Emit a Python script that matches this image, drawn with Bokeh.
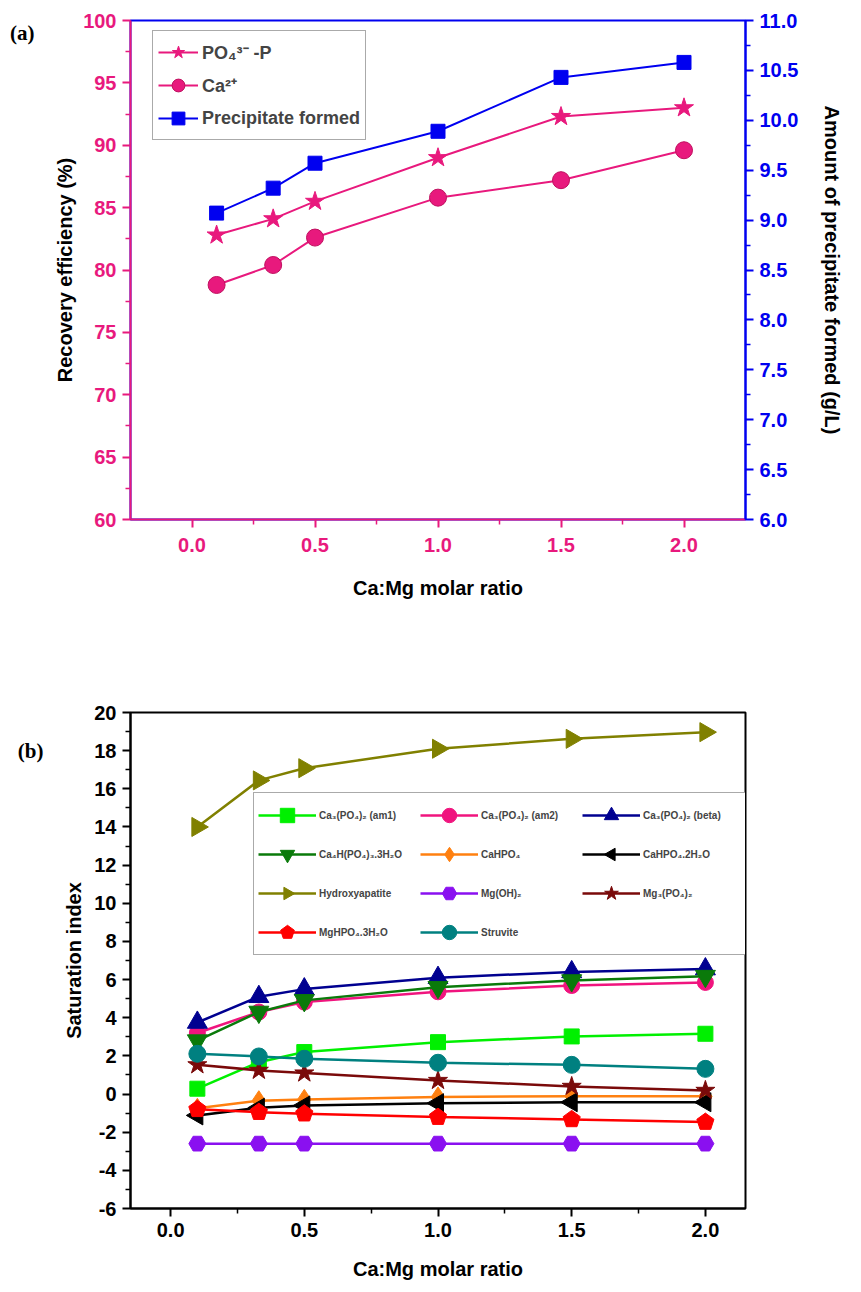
import math
from bokeh.plotting import figure
from bokeh.models import (Range1d, LinearAxis, FixedTicker, Legend, LegendItem,
                          NumeralTickFormatter)
from bokeh.layouts import column
from bokeh.embed import file_html
from bokeh.resources import INLINE

# ---------------- data: panel (a) ----------------
ratio = [0.1, 0.33, 0.5, 1.0, 1.5, 2.0]
po4_recovery = [82.8, 84.1, 85.5, 89.0, 92.3, 93.0]
ca_recovery = [78.8, 80.4, 82.6, 85.8, 87.2, 89.6]
precipitate = [9.07, 9.32, 9.57, 9.89, 10.43, 10.58]

a_x_ticks = [0.0, 0.5, 1.0, 1.5, 2.0]
a_x_minor = [0.25, 0.75, 1.25, 1.75]
a_left_ticks = [60, 65, 70, 75, 80, 85, 90, 95, 100]
a_left_minor = [62.5, 67.5, 72.5, 77.5, 82.5, 87.5, 92.5, 97.5]
a_right_ticks = [6.0, 6.5, 7.0, 7.5, 8.0, 8.5, 9.0, 9.5, 10.0, 10.5, 11.0]
a_right_minor = [6.25, 6.75, 7.25, 7.75, 8.25, 8.75, 9.25, 9.75, 10.25, 10.75]

# ---------------- data: panel (b) ----------------
si_am1 = [0.28, 1.67, 2.2, 2.72, 3.02, 3.16]
si_am2 = [3.2, 4.3, 4.82, 5.36, 5.69, 5.85]
si_beta = [3.75, 5.1, 5.5, 6.1, 6.4, 6.55]
si_ca4h = [2.8, 4.3, 4.91, 5.6, 5.95, 6.18]
si_cahpo4 = [-0.75, -0.35, -0.28, -0.15, -0.12, -0.12]
si_cahpo4_2h2o = [-1.12, -0.72, -0.6, -0.48, -0.43, -0.43]
si_hap = [14.0, 16.44, 17.08, 18.1, 18.62, 18.97]
si_mgoh2 = [-2.6, -2.6, -2.6, -2.6, -2.6, -2.6]
si_mg3po42 = [1.53, 1.24, 1.1, 0.71, 0.4, 0.19]
si_mghpo4 = [-0.8, -0.95, -1.03, -1.21, -1.33, -1.47]
si_struvite = [2.11, 1.97, 1.85, 1.64, 1.53, 1.32]

b_x_ticks = [0.0, 0.5, 1.0, 1.5, 2.0]
b_x_minor = [0.25, 0.75, 1.25, 1.75]
b_y_ticks = [-6, -4, -2, 0, 2, 4, 6, 8, 10, 12, 14, 16, 18, 20]
b_y_minor = [-5, -3, -1, 1, 3, 5, 7, 9, 11, 13, 15, 17, 19]

PINK = "#E8197D"
BLUE = "#0000F0"
FONT = "Liberation Sans"


def style_axis(ax, color, ticks, minor, fmt, label_color=None, title_standoff=6):
    ax.ticker = FixedTicker(ticks=ticks, minor_ticks=minor)
    ax.formatter = NumeralTickFormatter(format=fmt)
    ax.axis_line_color = color
    ax.axis_line_width = 2
    ax.major_tick_line_color = color
    ax.minor_tick_line_color = color
    ax.major_tick_line_width = 2
    ax.minor_tick_line_width = 1.5
    ax.major_tick_out = 8
    ax.major_tick_in = 0
    ax.minor_tick_out = 5
    ax.minor_tick_in = 0
    ax.major_label_text_color = color
    ax.major_label_text_font = FONT
    ax.major_label_text_font_style = "bold"
    ax.major_label_text_font_size = "20px"
    ax.major_label_standoff = 6
    ax.axis_label_text_font = FONT
    ax.axis_label_text_font_style = "bold"
    ax.axis_label_text_font_size = "20px"
    ax.axis_label_text_color = label_color or "black"
    ax.axis_label_standoff = title_standoff


def add_panel_tag(p, text, at):
    # a tick-less outer left axis whose single tick label is the panel tag
    tag = LinearAxis(ticker=FixedTicker(ticks=[at], minor_ticks=[]),
                     major_label_overrides={at: text},
                     axis_line_color=None, major_tick_line_color=None,
                     minor_tick_line_color=None, major_tick_out=0, major_tick_in=0,
                     minor_tick_out=0, minor_tick_in=0, major_label_standoff=17,
                     major_label_text_font="Liberation Serif",
                     major_label_text_font_style="bold",
                     major_label_text_font_size="21px", major_label_text_color="black")
    p.add_layout(tag, "left")


# ================= panel (a) =================
pa = figure(width=861, height=640, x_range=Range1d(-0.25, 2.25), y_range=Range1d(60, 100),
            output_backend="svg", toolbar_location=None,
            min_border_left=130, min_border_right=115, min_border_top=20, min_border_bottom=121)
pa.extra_y_ranges = {"right": Range1d(6, 11)}
pa.grid.visible = False
pa.outline_line_color = BLUE
pa.outline_line_width = 2
pa.background_fill_color = "white"

style_axis(pa.xaxis[0], PINK, a_x_ticks, a_x_minor, "0.0", title_standoff=22)
pa.xaxis[0].major_label_standoff = 10
pa.xaxis[0].axis_label = "Ca:Mg molar ratio"
style_axis(pa.yaxis[0], PINK, a_left_ticks, a_left_minor, "0", title_standoff=4)
pa.yaxis[0].axis_label = "Recovery efficiency (%)"
ra = LinearAxis(y_range_name="right", axis_label="Amount of precipitate formed (g/L)")
style_axis(ra, BLUE, a_right_ticks, a_right_minor, "0.0", title_standoff=20)
pa.add_layout(ra, "right")
add_panel_tag(pa, "(a)", 99)

l1 = pa.line(ratio, po4_recovery, line_color=PINK, line_width=2)
m1 = pa.scatter(ratio, po4_recovery, marker="star", size=20, fill_color=PINK, line_color=PINK)
l2 = pa.line(ratio, ca_recovery, line_color=PINK, line_width=2)
m2 = pa.scatter(ratio, ca_recovery, marker="circle", size=17, fill_color=PINK, line_color="#C0105F")
l3 = pa.line(ratio, precipitate, line_color=BLUE, line_width=2, y_range_name="right")
m3 = pa.scatter(ratio, precipitate, marker="square", size=14, fill_color=BLUE, line_color=BLUE,
                y_range_name="right")

leg_a = Legend(items=[LegendItem(label="PO₄³⁻ -P", renderers=[l1, m1]),
                      LegendItem(label="Ca²⁺", renderers=[l2, m2]),
                      LegendItem(label="Precipitate formed", renderers=[l3, m3])],
               location=(22, 379), glyph_width=40, glyph_height=32, label_height=32,
               spacing=1, padding=5, margin=0, label_standoff=4,
               label_text_font=FONT, label_text_font_style="bold", label_text_font_size="18px",
               border_line_color="#555555", border_line_width=1.2, background_fill_alpha=1)
pa.add_layout(leg_a)

# ================= panel (b) =================
pb = figure(width=861, height=652, x_range=Range1d(-0.15, 2.15), y_range=Range1d(-6, 20),
            output_backend="svg", toolbar_location=None,
            min_border_left=130, min_border_right=116, min_border_top=72, min_border_bottom=84)
pb.grid.visible = False
pb.outline_line_color = "black"
pb.outline_line_width = 2
style_axis(pb.xaxis[0], "black", b_x_ticks, b_x_minor, "0.0", title_standoff=18)
pb.xaxis[0].axis_label = "Ca:Mg molar ratio"
style_axis(pb.yaxis[0], "black", b_y_ticks, b_y_minor, "0", title_standoff=6)
pb.yaxis[0].axis_label = "Saturation index"
add_panel_tag(pb, "(b)", 18)

# name, values, colour, marker, n-gon sides (for rotated shapes), angle, size
series = [
    ("Ca₃(PO₄)₂ (am1)", si_am1, "#00F000", "square", 0, 0, 15),
    ("Ca₃(PO₄)₂ (am2)", si_am2, "#F0147E", "circle", 0, 0, 16),
    ("Ca₃(PO₄)₂ (beta)", si_beta, "#000090", "triangle", 0, 0, 20),
    ("Ca₄H(PO₄)₃.3H₂O", si_ca4h, "#0A7A0A", "inverted_triangle", 0, 0, 20),
    ("CaHPO₄", si_cahpo4, "#FF8010", "diamond", 0, 0, 20),
    ("CaHPO₄.2H₂O", si_cahpo4_2h2o, "black", "ngon", 3, math.pi / 2, 22),
    ("Hydroxyapatite", si_hap, "#808000", "ngon", 3, -math.pi / 2, 22),
    ("Mg(OH)₂", si_mgoh2, "#8A10F0", "hex", 0, 0, 17),
    ("Mg₃(PO₄)₂", si_mg3po42, "#7A0A0A", "star", 0, 0, 20),
    ("MgHPO₄.3H₂O", si_mghpo4, "#FF0000", "ngon", 5, 0, 18),
    ("Struvite", si_struvite, "#008080", "circle", 0, 0, 17),
]

has_ngon = hasattr(pb, "ngon")
items = {}
for name, vals, col, mk, nsides, ang, sz in series:
    lr = pb.line(ratio, vals, line_color=col, line_width=2.5)
    if mk == "ngon" and has_ngon:
        mr = pb.ngon(ratio, vals, radius=sz / 2, radius_units="screen", n=nsides, angle=ang,
                     fill_color=col, line_color=col)
    elif mk == "ngon":
        fallback = "hex" if nsides == 5 else "triangle"
        mr = pb.scatter(ratio, vals, marker=fallback, angle=ang, size=sz,
                        fill_color=col, line_color=col)
    else:
        mr = pb.scatter(ratio, vals, marker=mk, size=sz, fill_color=col, line_color=col)
    items[name] = LegendItem(label=name, renderers=[lr, mr])

order = ["Ca₃(PO₄)₂ (am1)", "Ca₄H(PO₄)₃.3H₂O", "Hydroxyapatite", "MgHPO₄.3H₂O",
         "Ca₃(PO₄)₂ (am2)", "CaHPO₄", "Mg(OH)₂", "Struvite",
         "Ca₃(PO₄)₂ (beta)", "CaHPO₄.2H₂O", "Mg₃(PO₄)₂"]
leg_b = Legend(items=[items[k] for k in order], nrows=4,
               location=(123, 253), glyph_width=58, glyph_height=36, label_height=36,
               spacing=3, padding=4, margin=0, label_standoff=3, label_width=98,
               label_text_font=FONT, label_text_font_style="bold", label_text_font_size="10px",
               border_line_color="#555555", border_line_width=1.2, background_fill_alpha=1)
pb.add_layout(leg_b)

layout = column(pa, pb, spacing=0)
open("out.html", "w").write(file_html(layout, INLINE))
